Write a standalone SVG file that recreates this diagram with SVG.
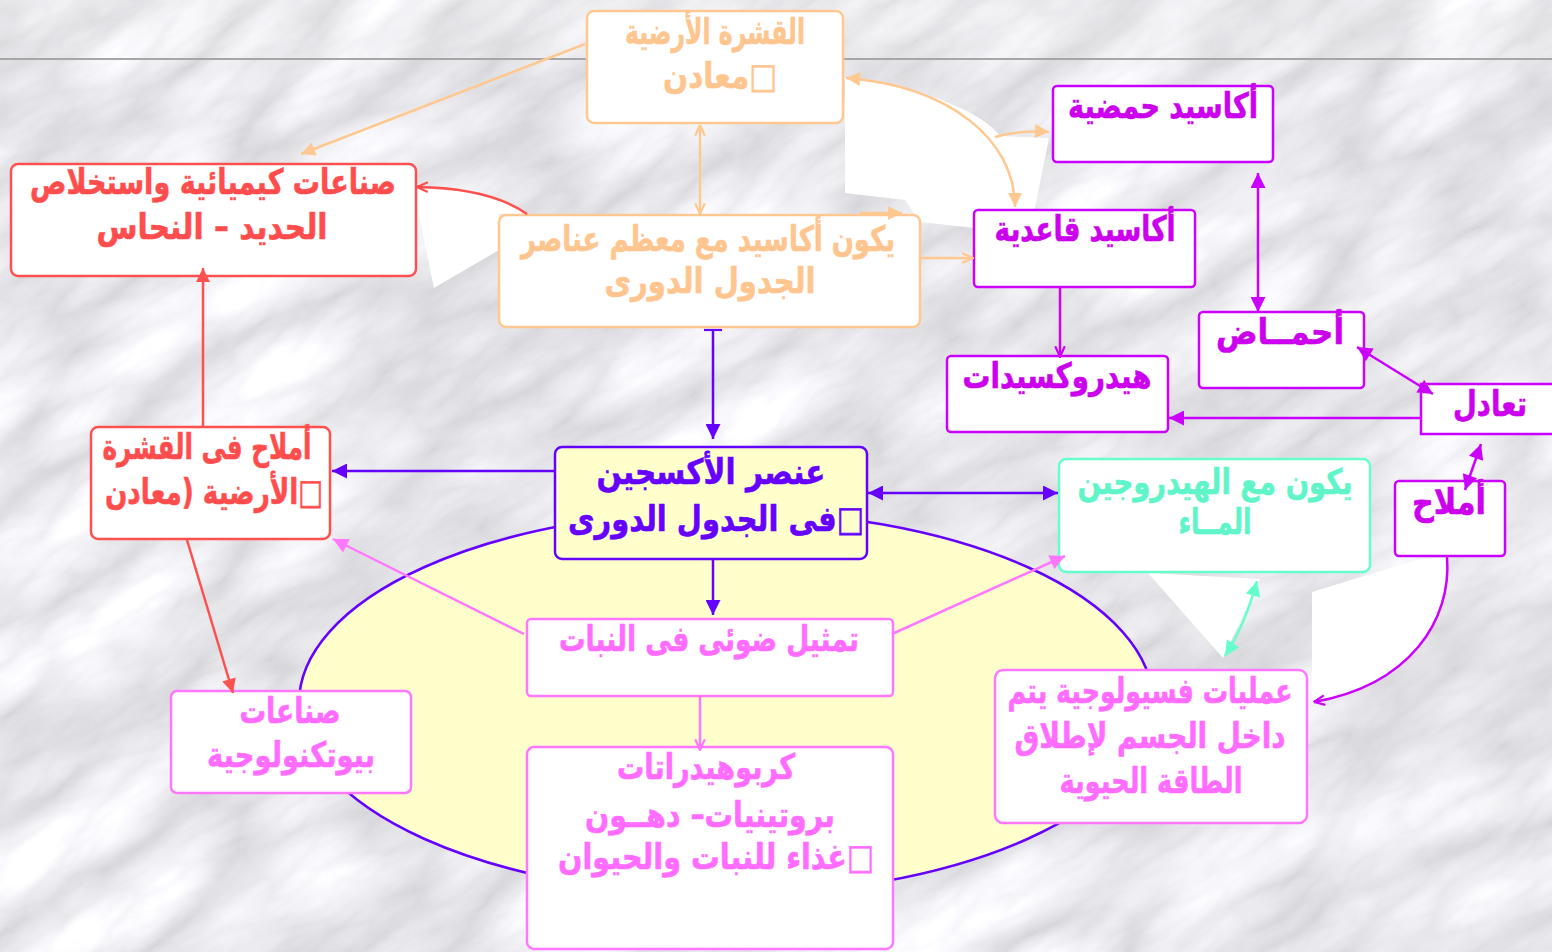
<svg xmlns="http://www.w3.org/2000/svg" width="1552" height="952" viewBox="0 0 1552 952">
<defs>
<filter id="marble" x="0" y="0" width="100%" height="100%" color-interpolation-filters="sRGB">
<feTurbulence type="turbulence" baseFrequency="0.004 0.011" numOctaves="5" seed="11"/>
<feColorMatrix type="matrix" values="0.24 0 0 0 0.835  0.24 0 0 0 0.835  0.24 0 0 0 0.85  0 0 0 0 1"/>
</filter>
<marker id="m-peach" viewBox="0 0 10 10" refX="10" refY="5" markerWidth="15" markerHeight="14" markerUnits="userSpaceOnUse" orient="auto-start-reverse"><path d="M0,0 L10,5 L0,10 z" fill="#ffc890"/></marker>
<marker id="m-peachv" viewBox="0 0 10 10" refX="10" refY="5" markerWidth="13" markerHeight="12" markerUnits="userSpaceOnUse" orient="auto-start-reverse"><path d="M1,1 L10,5 L1,9" fill="none" stroke="#ffc890" stroke-width="1.8"/></marker>
<marker id="m-red" viewBox="0 0 10 10" refX="10" refY="5" markerWidth="15" markerHeight="14" markerUnits="userSpaceOnUse" orient="auto-start-reverse"><path d="M0,0 L10,5 L0,10 z" fill="#ff5050"/></marker>
<marker id="m-redv" viewBox="0 0 10 10" refX="10" refY="5" markerWidth="13" markerHeight="12" markerUnits="userSpaceOnUse" orient="auto-start-reverse"><path d="M1,1 L10,5 L1,9" fill="none" stroke="#ff5050" stroke-width="1.8"/></marker>
<marker id="m-blue" viewBox="0 0 10 10" refX="10" refY="5" markerWidth="17" markerHeight="15" markerUnits="userSpaceOnUse" orient="auto-start-reverse"><path d="M0,0 L10,5 L0,10 z" fill="#6600ff"/></marker>
<marker id="m-bar" viewBox="0 0 10 10" refX="5" refY="5" markerWidth="18" markerHeight="18" markerUnits="userSpaceOnUse" orient="auto"><path d="M5,0 L5,10" stroke="#6600ff" stroke-width="1.2"/></marker>
<marker id="m-pink" viewBox="0 0 10 10" refX="10" refY="5" markerWidth="17" markerHeight="15" markerUnits="userSpaceOnUse" orient="auto-start-reverse"><path d="M0,0 L10,5 L0,10 z" fill="#ff77ff"/></marker>
<marker id="m-pinkv" viewBox="0 0 10 10" refX="10" refY="5" markerWidth="13" markerHeight="12" markerUnits="userSpaceOnUse" orient="auto-start-reverse"><path d="M1,1 L10,5 L1,9" fill="none" stroke="#ff77ff" stroke-width="1.8"/></marker>
<marker id="m-purple" viewBox="0 0 10 10" refX="10" refY="5" markerWidth="17" markerHeight="15" markerUnits="userSpaceOnUse" orient="auto-start-reverse"><path d="M0,0 L10,5 L0,10 z" fill="#cc00ff"/></marker>
<marker id="m-purplev" viewBox="0 0 10 10" refX="10" refY="5" markerWidth="13" markerHeight="12" markerUnits="userSpaceOnUse" orient="auto-start-reverse"><path d="M1,1 L10,5 L1,9" fill="none" stroke="#cc00ff" stroke-width="1.8"/></marker>
<marker id="m-aqua" viewBox="0 0 10 10" refX="10" refY="5" markerWidth="17" markerHeight="15" markerUnits="userSpaceOnUse" orient="auto-start-reverse"><path d="M0,0 L10,5 L0,10 z" fill="#66ffcc"/></marker>
</defs>
<style>
.box{fill:#ffffff;stroke-width:2.5}
.peach{stroke:#ffc890}
.red{stroke:#ff5050}
.purple{stroke:#cc00ff}
.aqua{stroke:#66ffcc}
.blue{stroke:#6600ff}
.pink{stroke:#ff77ff}
.t{font-family:"DejaVu Sans",sans-serif;font-weight:bold;font-size:35px;text-anchor:middle;direction:rtl;stroke-width:0.6}
.tp{fill:#ffc58f;stroke:#ffc58f}
.tr{fill:#ff4d4d;stroke:#ff4d4d}
.tu{fill:#cc00ee;stroke:#cc00ee}
.ta{fill:#5ff5c8;stroke:#5ff5c8}
.tb{fill:#6600ff;stroke:#6600ff}
.tk{fill:#ff6cff;stroke:#ff6cff}
.c{fill:none;stroke-width:2.5}
.art{fill:#ffffff}
</style>
<g id="background">
<rect x="0" y="0" width="1552" height="952" fill="#e6e6e8"/>
<g transform="rotate(-32 776 476)">
<rect x="-500" y="-500" width="2552" height="1952" filter="url(#marble)"/>
</g>
<rect x="0" y="0" width="1552" height="58" fill="#ffffff" fill-opacity="0.12"/>
<line x1="0" y1="59" x2="1552" y2="59" stroke="#a6a6a8" stroke-width="2"/>
</g>
<g id="cycle-ellipse">
<ellipse cx="726" cy="703" rx="427" ry="192" fill="#ffffcc" stroke="#6600ff" stroke-width="2.5"/>
</g>
<g id="artifacts">
<path class="art" d="M845,78 C930,88 985,115 1000,136 L1049,138 L1034,212 L975,228 L920,222 L905,200 L845,193 Z"/>
<path class="art" d="M416,200 L434,288 L499,250 L499,214 L527,214 Q490,188 430,187 L416,187 Z"/>
<path class="art" d="M1148,573 L1260,579 L1223,658 Z"/>
<path class="art" d="M1312,592 L1416,560 L1447,557 C1452,620 1410,685 1314,702 L1312,700 Z"/>
</g>
<g id="node-crust">
<rect class="box peach" x="587" y="11" width="256" height="112" rx="7"/>
<text class="t tp" x="715" y="44" textLength="180" lengthAdjust="spacingAndGlyphs">القشرة الأرضية</text>
<text class="t tp" x="720" y="88" textLength="114" lengthAdjust="spacingAndGlyphs">□معادن</text>
</g>
<g id="node-industries">
<rect class="box red" x="11" y="164" width="405" height="112" rx="7"/>
<text class="t tr" x="213" y="194" textLength="366" lengthAdjust="spacingAndGlyphs">صناعات كيميائية واستخلاص</text>
<text class="t tr" x="212" y="239" textLength="231" lengthAdjust="spacingAndGlyphs">الحديد – النحاس</text>
</g>
<g id="node-oxides">
<rect class="box peach" x="499" y="215" width="421" height="112" rx="7"/>
<text class="t tp" x="708" y="251" textLength="374" lengthAdjust="spacingAndGlyphs">يكون أكاسيد مع معظم عناصر</text>
<text class="t tp" x="710" y="293" textLength="211" lengthAdjust="spacingAndGlyphs">الجدول الدورى</text>
</g>
<g id="node-acidic-oxides">
<rect class="box purple" x="1053" y="86" width="220" height="76" rx="4"/>
<text class="t tu" x="1163" y="118" textLength="190" lengthAdjust="spacingAndGlyphs">أكاسيد حمضية</text>
</g>
<g id="node-basic-oxides">
<rect class="box purple" x="974" y="210" width="221" height="77" rx="4"/>
<text class="t tu" x="1085" y="241" textLength="181" lengthAdjust="spacingAndGlyphs">أكاسيد قاعدية</text>
</g>
<g id="node-hydroxides">
<rect class="box purple" x="947" y="356" width="221" height="76" rx="4"/>
<text class="t tu" x="1057" y="388" textLength="189" lengthAdjust="spacingAndGlyphs">هيدروكسيدات</text>
</g>
<g id="node-acids">
<rect class="box purple" x="1199" y="312" width="165" height="76" rx="4"/>
<text class="t tu" x="1280" y="344" textLength="128" lengthAdjust="spacingAndGlyphs">أحمــاض</text>
</g>
<g id="node-neutralization">
<rect class="box purple" x="1421" y="384" width="140" height="50" rx="0"/>
<text class="t tu" x="1490" y="416" textLength="74" lengthAdjust="spacingAndGlyphs">تعادل</text>
</g>
<g id="node-salts">
<rect class="box purple" x="1395" y="481" width="110" height="75" rx="4"/>
<text class="t tu" x="1449" y="514" textLength="74" lengthAdjust="spacingAndGlyphs">أملاح</text>
</g>
<g id="node-water">
<rect class="box aqua" x="1059" y="459" width="311" height="113" rx="7"/>
<text class="t ta" x="1215" y="494" textLength="275" lengthAdjust="spacingAndGlyphs">يكون مع الهيدروجين</text>
<text class="t ta" x="1215" y="534" textLength="73" lengthAdjust="spacingAndGlyphs">المــاء</text>
</g>
<g id="node-oxygen">
<rect x="555" y="447" width="312" height="112" rx="7" fill="#ffffcc" stroke="#6600ff" stroke-width="2.5"/>
<text class="t tb" x="711" y="484" font-size="38" textLength="229" lengthAdjust="spacingAndGlyphs">عنصر الأكسجين</text>
<text class="t tb" x="716" y="531" font-size="38" textLength="296" lengthAdjust="spacingAndGlyphs">□فى الجدول الدورى</text>
</g>
<g id="node-crust-salts">
<rect class="box red" x="91" y="427" width="239" height="112" rx="7"/>
<text class="t tr" x="207" y="459" textLength="209" lengthAdjust="spacingAndGlyphs">أملاح فى القشرة</text>
<text class="t tr" x="214" y="504" textLength="218" lengthAdjust="spacingAndGlyphs">□الأرضية (معادن</text>
</g>
<g id="node-photosynthesis">
<rect class="box pink" x="527" y="619" width="366" height="77" rx="4"/>
<text class="t tk" x="709" y="651" textLength="300" lengthAdjust="spacingAndGlyphs">تمثيل ضوئى فى النبات</text>
</g>
<g id="node-biotech">
<rect class="box pink" x="171" y="691" width="240" height="102" rx="6"/>
<text class="t tk" x="290" y="723" textLength="101" lengthAdjust="spacingAndGlyphs">صناعات</text>
<text class="t tk" x="291" y="767" textLength="168" lengthAdjust="spacingAndGlyphs">بيوتكنولوجية</text>
</g>
<g id="node-food">
<rect class="box pink" x="527" y="747" width="366" height="202" rx="7"/>
<text class="t tk" x="706" y="779" textLength="178" lengthAdjust="spacingAndGlyphs">كربوهيدراتات</text>
<text class="t tk" x="710" y="827" textLength="250" lengthAdjust="spacingAndGlyphs">بروتينيات– دهــون</text>
<text class="t tk" x="716" y="869" textLength="316" lengthAdjust="spacingAndGlyphs">□غذاء للنبات والحيوان</text>
</g>
<g id="node-physiology">
<rect class="box pink" x="995" y="670" width="312" height="153" rx="8"/>
<text class="t tk" x="1150" y="703" textLength="285" lengthAdjust="spacingAndGlyphs">عمليات فسيولوجية يتم</text>
<text class="t tk" x="1150" y="748" textLength="271" lengthAdjust="spacingAndGlyphs">داخل الجسم لإطلاق</text>
<text class="t tk" x="1151" y="793" textLength="183" lengthAdjust="spacingAndGlyphs">الطاقة الحيوية</text>
</g>
<g id="connectors">
<path class="c peach" d="M585,44 L301,154" stroke-width="2" marker-end="url(#m-peach)"/>
<path class="c peach" d="M700,125 L700,214" stroke-width="1.8" marker-start="url(#m-peachv)" marker-end="url(#m-peachv)"/>
<path class="c peach" d="M846,78 C950,86 1015,140 1015,207" marker-start="url(#m-peach)" marker-end="url(#m-peach)"/>
<path class="c peach" d="M995,137 Q1020,130 1049,132" marker-end="url(#m-peach)"/>
<path class="c peach" d="M921,258 L973,258" stroke-width="2" marker-end="url(#m-peachv)"/>
<path class="c peach" d="M860,213 L902,213" stroke-width="2" marker-end="url(#m-peach)"/>
<path class="c red" d="M527,214 Q490,188 417,187" marker-end="url(#m-redv)"/>
<path class="c red" d="M203,427 L203,268" marker-end="url(#m-red)"/>
<path class="c red" d="M187,540 L233,693" marker-end="url(#m-red)"/>
<path class="c blue" d="M713,330 L713,439" marker-start="url(#m-bar)" marker-end="url(#m-blue)"/>
<path class="c blue" d="M555,471 L332,471" marker-end="url(#m-blue)"/>
<path class="c blue" d="M868,493 L1058,493" marker-start="url(#m-blue)" marker-end="url(#m-blue)"/>
<path class="c blue" d="M713,560 L713,615" marker-end="url(#m-blue)"/>
<path class="c pink" d="M524,634 L333,539" marker-end="url(#m-pink)"/>
<path class="c pink" d="M892,634 L1065,556" marker-end="url(#m-pink)"/>
<path class="c pink" d="M700,696 L700,750" stroke-width="2" marker-end="url(#m-pinkv)"/>
<path class="c purple" d="M1060,287 L1060,357" marker-end="url(#m-purplev)"/>
<path class="c purple" d="M1258,173 L1258,312" marker-start="url(#m-purple)" marker-end="url(#m-purple)"/>
<path class="c purple" d="M1357,347 L1433,394" marker-start="url(#m-purple)" marker-end="url(#m-purple)"/>
<path class="c purple" d="M1421,418 L1169,418" marker-end="url(#m-purple)"/>
<path class="c purple" d="M1481,444 L1465,490" marker-start="url(#m-purple)" marker-end="url(#m-purple)"/>
<path class="c purple" d="M1447,557 C1452,620 1410,685 1314,702" marker-end="url(#m-purplev)"/>
<path class="c aqua" d="M1257,581 Q1245,625 1225,656" marker-start="url(#m-aqua)" marker-end="url(#m-aqua)"/>
</g>
</svg>
